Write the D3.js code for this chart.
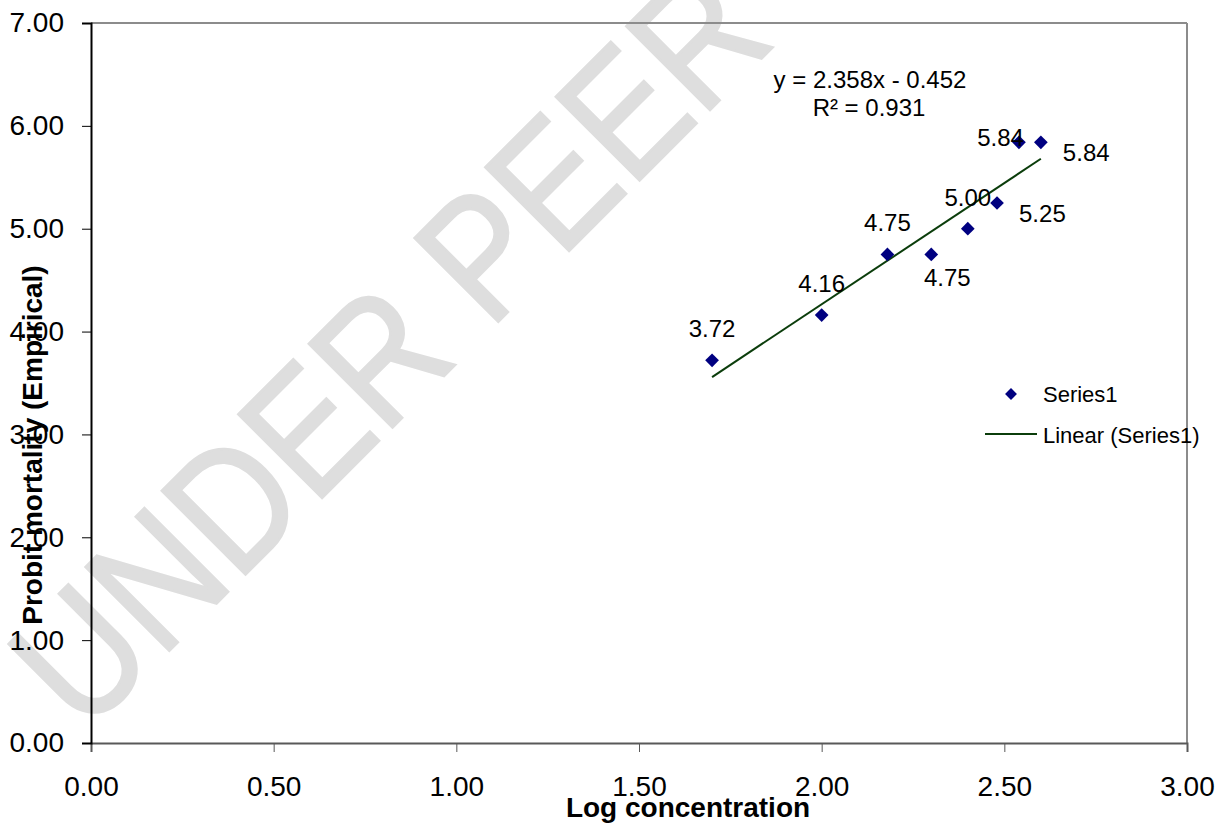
<!DOCTYPE html>
<html>
<head>
<meta charset="utf-8">
<script src="https://d3js.org/d3.v7.min.js"></script>
<style>
    body { margin: 0; background: #fff; }
    text { font-family: "Liberation Sans", Arial, sans-serif; }
</style>
</head>
<body>
<script>
// data
var logConc = [1.70, 2.00, 2.18, 2.30, 2.40, 2.48, 2.54, 2.60];
var probit = [3.72, 4.16, 4.75, 4.75, 5.00, 5.25, 5.84, 5.84];
var labelPos = ["above", "above", "above", "below", "above", "right", "left", "right"];
var xTicks = [0, 0.5, 1, 1.5, 2, 2.5, 3];
var yTicks = [0, 1, 2, 3, 4, 5, 6, 7];
var seriesName = "Series1";
var trendName = "Linear (Series1)";
var eqText = "y = 2.358x - 0.452";
var r2Text = "R\u00b2 = 0.931";

let width = 1224;
let height = 827;

let svg = d3.select("body").append("svg")
    .attr("width", width)
    .attr("height", height);

let plotLeft = 91, plotRight = 1187, plotTop = 23, plotBottom = 743;

let x = d3.scaleLinear().domain([0, 3]).range([plotLeft, plotRight]);
let y = d3.scaleLinear().domain([0, 7]).range([plotBottom, plotTop]);

// watermark behind everything
svg.append("text")
    .attr("transform", "translate(84,736) rotate(-45) scale(0.87,1)")
    .attr("font-size", "172px")
    .attr("fill", "#dedede")
    .attr("stroke", "#dedede")
    .attr("stroke-width", 2.5)
    .text("UNDER PEER");

// plot frame (top and right in grey)
svg.append("line")
    .attr("x1", plotLeft).attr("x2", plotRight)
    .attr("y1", plotTop).attr("y2", plotTop)
    .attr("stroke", "#8c8c8c").attr("stroke-width", 2);
svg.append("line")
    .attr("x1", plotRight).attr("x2", plotRight)
    .attr("y1", plotTop).attr("y2", plotBottom)
    .attr("stroke", "#8c8c8c").attr("stroke-width", 2);

// axes
let xAxis = svg.append("g")
    .attr("transform", "translate(0," + plotBottom + ")")
    .call(d3.axisBottom(x).tickValues(xTicks).tickFormat(d3.format(".2f")).tickSize(9).tickPadding(24));
xAxis.select(".domain").attr("stroke", "#595959").attr("stroke-width", 2);
xAxis.selectAll(".tick line").attr("stroke", "#595959");
xAxis.selectAll("text").attr("font-size", "28px").attr("fill", "#000")
    .attr("font-family", "Liberation Sans, Arial, sans-serif");

let yAxis = svg.append("g")
    .attr("transform", "translate(" + plotLeft + ",0)")
    .call(d3.axisLeft(y).tickValues(yTicks).tickFormat(d3.format(".2f")).tickSize(9).tickPadding(18));
yAxis.select(".domain").attr("stroke", "#000").attr("stroke-width", 2);
yAxis.selectAll(".tick line").attr("stroke", "#000");
yAxis.selectAll("text").attr("font-size", "28px").attr("fill", "#000")
    .attr("font-family", "Liberation Sans, Arial, sans-serif");

// axis titles
svg.append("text")
    .attr("x", 688).attr("y", 817)
    .attr("text-anchor", "middle")
    .attr("font-size", "28px").attr("font-weight", "bold")
    .text("Log concentration");

svg.append("text")
    .attr("transform", "translate(42,445) rotate(-90)")
    .attr("text-anchor", "middle")
    .attr("font-size", "28px").attr("font-weight", "bold")
    .text("Probit mortality (Empirical)");

// least squares trendline
let mx = d3.mean(logConc), my = d3.mean(probit);
let sxy = d3.sum(logConc, (v, i) => (v - mx) * (probit[i] - my));
let sxx = d3.sum(logConc, v => (v - mx) * (v - mx));
let slope = sxy / sxx;
let intercept = my - slope * mx;
let xExt = d3.extent(logConc);

svg.append("line")
    .attr("x1", x(xExt[0])).attr("y1", y(slope * xExt[0] + intercept))
    .attr("x2", x(xExt[1])).attr("y2", y(slope * xExt[1] + intercept))
    .attr("stroke", "#0b3d0b").attr("stroke-width", 2);

let diamond = d3.symbol().type(d3.symbolDiamond2).size(120);

let points = logConc.map((v, i) => ({x: v, y: probit[i], pos: labelPos[i]}));

svg.selectAll(".pt")
    .data(points)
    .join("path")
    .attr("class", "pt")
    .attr("d", diamond)
    .attr("transform", d => "translate(" + x(d.x) + "," + y(d.y) + ")")
    .attr("fill", "#000080");

// data labels
let offsets = {
    above: {dx: 0, dy: -23, anchor: "middle"},
    below: {dx: 16, dy: 32, anchor: "middle"},
    right: {dx: 22, dy: 19, anchor: "start"},
    left: {dx: 5, dy: 4, anchor: "end"}
};

svg.selectAll(".lbl")
    .data(points)
    .join("text")
    .attr("class", "lbl")
    .attr("x", d => x(d.x) + offsets[d.pos].dx)
    .attr("y", d => y(d.y) + offsets[d.pos].dy)
    .attr("text-anchor", d => offsets[d.pos].anchor)
    .attr("font-size", "24px")
    .text(d => d.y.toFixed(2));

// equation
svg.append("text")
    .attr("x", 870).attr("y", 88)
    .attr("text-anchor", "middle")
    .attr("font-size", "24px")
    .text(eqText);
svg.append("text")
    .attr("x", 869).attr("y", 116)
    .attr("text-anchor", "middle")
    .attr("font-size", "24px")
    .text(r2Text);

// legend
var legend = svg.append("g");
legend.append("path").attr("d", diamond.size(90)).attr("transform", "translate(1011,394)").attr("fill", "#000080");
legend.append("text").attr("x", 1043).attr("y", 402).attr("font-size", "22px").text(seriesName);
legend.append("line").attr("x1", 985).attr("x2", 1037).attr("y1", 434).attr("y2", 434)
    .attr("stroke", "#0b3d0b").attr("stroke-width", 2);
legend.append("text").attr("x", 1043).attr("y", 443).attr("font-size", "22px").text(trendName);
</script>
</body>
</html>
